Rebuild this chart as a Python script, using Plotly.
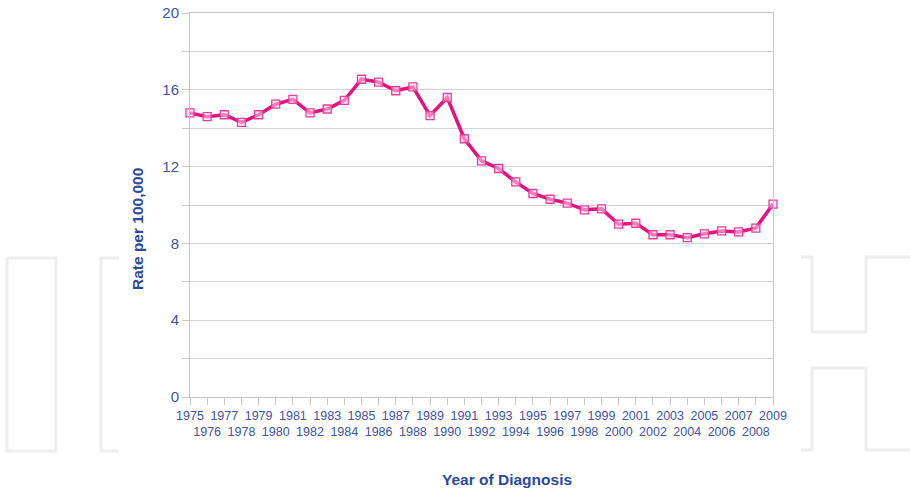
import plotly.graph_objects as go

years = list(range(1975, 2010))
rates = [14.8, 14.6, 14.7, 14.3, 14.7, 15.25, 15.5, 14.8, 15.0, 15.45,
         16.55, 16.4, 15.95, 16.15, 14.65, 15.6, 13.45, 12.3, 11.9, 11.2,
         10.6, 10.3, 10.1, 9.75, 9.8, 9.0, 9.05, 8.45, 8.45, 8.3,
         8.5, 8.65, 8.6, 8.8, 10.05]
x_ticktext = [str(y) if y % 2 == 1 else " <br>" + str(y) for y in years]
y_tickvals = list(range(0, 21, 2))
y_ticktext = [str(v) if v % 4 == 0 else "" for v in y_tickvals]

W, H = 910, 492
L, R, T, B = 190, 773, 13, 397  # plot area in pixels

def px(x):
    return (x - L) / (R - L)

def py(y):
    return (B - y) / (B - T)

def path(points):
    segs = []
    for i, (x, y) in enumerate(points):
        segs.append(("M" if i == 0 else "L") + f"{px(x):.5f},{py(y):.5f}")
    return " ".join(segs)

wm = dict(color="#eeeeee", width=3)
shapes = [
    dict(type="path", xref="paper", yref="paper", layer="below", line=wm,
         path=path([(7, 258), (56, 258), (56, 451), (7, 451), (7, 258)])),
    dict(type="path", xref="paper", yref="paper", layer="below", line=wm,
         path=path([(119, 258), (101, 258), (101, 451), (119, 451)])),
    dict(type="path", xref="paper", yref="paper", layer="below", line=wm,
         path=path([(801, 257), (812, 257), (812, 332), (866, 332), (866, 257), (915, 257)])),
    dict(type="path", xref="paper", yref="paper", layer="below", line=wm,
         path=path([(801, 450), (812, 450), (812, 368), (866, 368), (866, 450), (915, 450)])),
]

fig = go.Figure()
fig.add_trace(go.Scatter(
    x=years, y=rates, mode="lines+markers",
    line=dict(color="#e5127d", width=3.5),
    marker=dict(symbol="square", size=8, color="rgba(255,215,235,0.55)",
                line=dict(color="#e8409a", width=1.3)),
    cliponaxis=False, showlegend=False,
))

tick_font = dict(family="Liberation Sans, Arial, sans-serif", color="#3d55a8")
title_font = dict(family="Liberation Sans, Arial, sans-serif", size=15.5, color="#2a4a9b")
fig.update_layout(
    width=W, height=H,
    margin=dict(l=L, r=W - R, t=T, b=H - B, autoexpand=False),
    paper_bgcolor="white", plot_bgcolor="rgba(0,0,0,0)",
    shapes=shapes,
    xaxis=dict(
        range=[1975, 2009], tickmode="array", tickvals=years, ticktext=x_ticktext,
        tickangle=0, ticks="outside", ticklen=7, tickcolor="#c8c8c8",
        showgrid=False, zeroline=False, showline=True, linecolor="#c8c8c8",
        linewidth=1, mirror=True, automargin=False, ticklabeloverflow="allow",
        tickfont=dict(size=12.5, **tick_font),
    ),
    yaxis=dict(
        range=[0, 20], tickmode="array", tickvals=y_tickvals, ticktext=y_ticktext,
        ticks="outside", ticklen=7, tickcolor="#c8c8c8",
        showgrid=True, gridcolor="#d4d4d4", gridwidth=1, zeroline=False,
        showline=True, linecolor="#c8c8c8", linewidth=1, mirror=True,
        automargin=False, ticklabeloverflow="allow",
        tickfont=dict(size=15, **tick_font),
    ),
    annotations=[
        dict(text="<b>Rate per 100,000</b>", textangle=-90, xref="paper", yref="paper",
             x=px(137), y=py(229), xanchor="center", yanchor="middle",
             showarrow=False, font=title_font),
        dict(text="<b>Year of Diagnosis</b>", xref="paper", yref="paper",
             x=px(507), y=py(479), xanchor="center", yanchor="middle",
             showarrow=False, font=title_font),
    ],
)

fig.write_html(
    "out.html",
    config={"displayModeBar": False},
    post_script="document.body.style.margin='0';document.body.style.overflow='hidden';",
)
